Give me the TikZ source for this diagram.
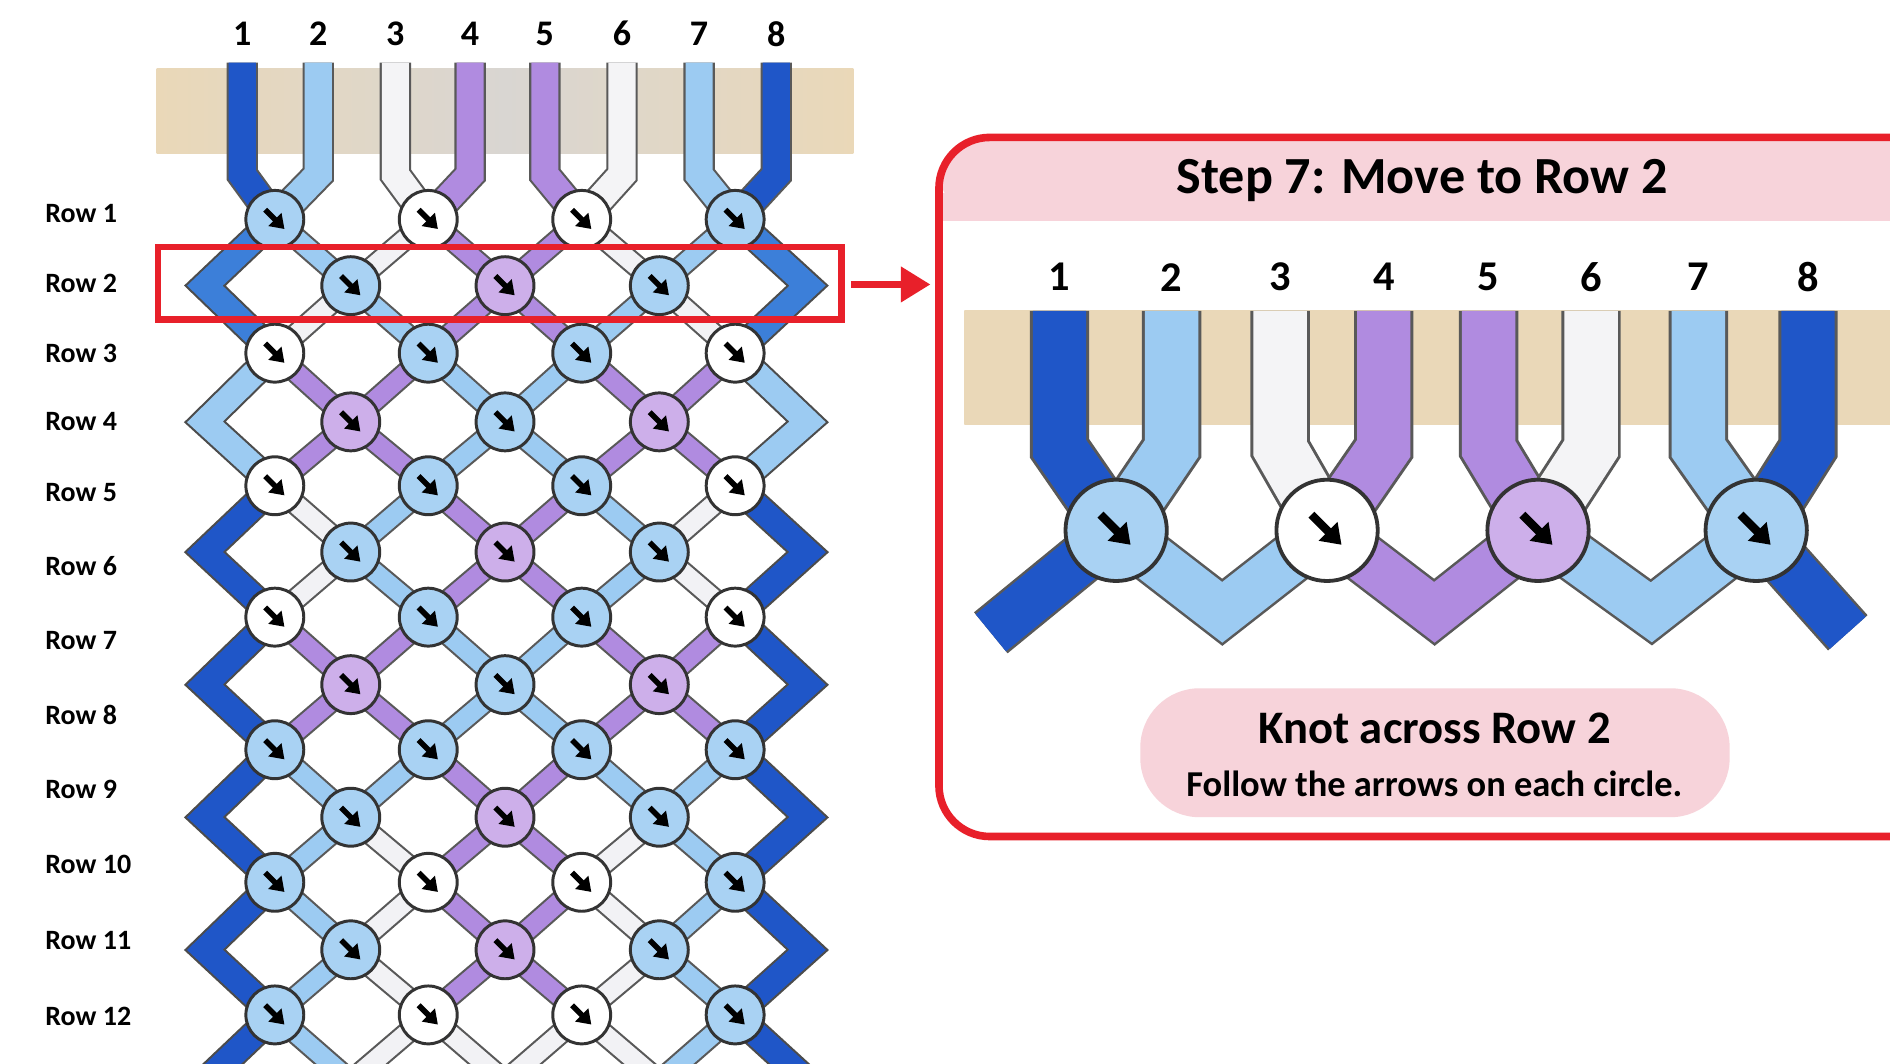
\documentclass[tikz,border=0pt]{standalone}
\usepackage{fontspec}
\setmainfont{Carlito}
\usetikzlibrary{arrows.meta}
\definecolor{dblue}{HTML}{1F56C8}
\definecolor{mblue}{HTML}{3C7FD9}
\definecolor{lblue}{HTML}{9CCBF2}
\definecolor{wstr}{HTML}{F4F4F6}
\definecolor{purp}{HTML}{B08BE0}
\definecolor{strand1}{HTML}{9CCBF2}
\definecolor{strand2}{HTML}{F2F2F5}
\definecolor{strand3}{HTML}{B08BE0}
\definecolor{knot1}{HTML}{A9D2F3}
\definecolor{knot2}{HTML}{FFFFFF}
\definecolor{knot3}{HTML}{CDAFEA}
\definecolor{tape}{HTML}{EAD8B8}
\definecolor{tapeg}{HTML}{D9D6D2}
\definecolor{pinkh}{HTML}{F7D3DA}
\definecolor{redl}{HTML}{E8202A}
\tikzset{
  str/.style={line width=4.4pt, draw=#1, line cap=butt},
  strout/.style={line width=5.4pt, draw=black!65, line cap=butt},
  edge/.style={line width=5.8pt, draw=#1, line join=miter},
  edgeout/.style={line width=6.8pt, draw=black!70, line join=miter},
  knot/.style={circle, minimum size=0.48cm, inner sep=0pt, fill=#1, draw=black!80, line width=0.7pt},
  bigknot/.style={circle, minimum size=0.84cm, inner sep=0pt, fill=#1, draw=black!80, line width=0.9pt},
  arr/.style={line width=1.3pt, -{Triangle[length=3.2pt,width=4.2pt]}},
  bigarr/.style={line width=2pt, -{Triangle[length=4.5pt,width=6pt]}},
  rowlab/.style={font=\fontsize{6.6}{8}\selectfont\bfseries, anchor=west, inner sep=0pt},
  numl/.style={font=\fontsize{8.5}{10}\selectfont\bfseries},
  numr/.style={font=\fontsize{10}{12}\selectfont\bfseries},
  zz/.style={line width=11.3pt, draw=#1, line join=miter},
  zzout/.style={line width=12.5pt, draw=black!65, line join=miter},
}
\newcommand\segdraw[2]{%
  \pgfmathtruncatemacro\mm{max(\csname kc#1\endcsname,\csname kc#2\endcsname)}%
  \draw[strout] (k#1)--(k#2);\draw[str=strand\mm] (k#1)--(k#2);}
\begin{document}
\begin{tikzpicture}[x=0.01cm,y=-0.01cm]
\useasboundingbox (0,0) rectangle (1568,882);
\fill[white] (0,0) rectangle (1568,882);
% ---------- left pattern ----------
\def\ys{{182,237,293,350,403,458,512,568,622,678,732,788,842,897}}
\foreach \r/\cols in {1/{1,2,2,1},2/{1,3,1},3/{2,1,1,2},4/{3,1,3},5/{2,1,1,2},6/{1,3,1},7/{2,1,1,2},8/{3,1,3},9/{1,1,1,1},10/{1,3,1},11/{1,2,2,1},12/{1,3,1},13/{1,2,2,1},14/{1,1,1}}{
  \pgfmathsetmacro\yy{\ys[\r-1]}
  \pgfmathtruncatemacro\odd{mod(\r,2)}
  \foreach \c [count=\i] in \cols {
    \pgfmathsetmacro\xx{\odd==1 ? 228+127.3*(\i-1) : 291+128*(\i-1)}
    \coordinate (k\r-\i) at (\xx,\yy);
    \expandafter\xdef\csname kc\r-\i\endcsname{\c}
  }
  \ifnum\odd=0
    \coordinate (eL\r) at (170,\yy);
    \coordinate (eR\r) at (670,\yy);
  \fi
}
% tape
\shade[left color=tape, right color=tape, middle color=tapeg] (130,57) rectangle (708,127);
% top strands
\foreach \x/\col/\k in {201/dblue/1,264/lblue/1,328/wstr/2,390/purp/2,452/purp/3,516/wstr/3,580/lblue/4,644/dblue/4}{
  \draw[line width=7.4pt, black!65] (\x,52)--(\x,145)--(k1-\k);
  \draw[line width=6.4pt, \col] (\x,52)--(\x,145)--(k1-\k);
}
\begin{scope}
\clip (0,0) rectangle (1568,882);
\foreach \r in {1,...,13}{
  \pgfmathtruncatemacro\n{\r+1}
  \pgfmathtruncatemacro\odd{mod(\r,2)}
  \ifnum\odd=1
    \foreach \i in {1,...,4}{
      \pgfmathtruncatemacro\j{\i-1}
      \ifnum\j>0 \segdraw{\r-\i}{\n-\j}\fi
      \ifnum\i<4 \segdraw{\r-\i}{\n-\i}\fi
    }
  \else
    \foreach \i in {1,...,3}{
      \pgfmathtruncatemacro\j{\i+1}
      \segdraw{\r-\i}{\n-\i}
      \segdraw{\r-\i}{\n-\j}
    }
  \fi
}
\foreach \r/\ec in {2/mblue,4/lblue,6/dblue,8/dblue,10/dblue,12/dblue}{
  \pgfmathtruncatemacro\p{\r-1}\pgfmathtruncatemacro\q{\r+1}
  \draw[edgeout] (k\p-1)--(eL\r)--(k\q-1); \draw[edge=\ec] (k\p-1)--(eL\r)--(k\q-1);
  \draw[edgeout] (k\p-4)--(eR\r)--(k\q-4); \draw[edge=\ec] (k\p-4)--(eR\r)--(k\q-4);
}
\draw[edgeout] (k13-1)--(eL14); \draw[edge=dblue] (k13-1)--(eL14);
\draw[edgeout] (k13-4)--(eR14); \draw[edge=dblue] (k13-4)--(eR14);
\foreach \r/\m in {1/4,2/3,3/4,4/3,5/4,6/3,7/4,8/3,9/4,10/3,11/4,12/3,13/4}{
  \foreach \i in {1,...,\m}{
    \node[knot=knot\csname kc\r-\i\endcsname] (n\r-\i) at (k\r-\i) {};
    \draw[arr] ([shift={(-8,-8)}]n\r-\i.center) -- ([shift={(8,8)}]n\r-\i.center);
  }
}
\end{scope}
% column numbers
\foreach \x [count=\i] in {201,264,328,390,452,516,580,644}{
  \node[numl] (cl\i) at (\x,28) {\i};
}
% row labels
\foreach \y [count=\i] in {177,235,293,350,409,470,531,593,655,717,780,843}{
  \node[rowlab] (rl\i) at (37,\y) {Row \i};
}
% highlight
\draw[redl, line width=1.5pt] (131,205) rectangle (698,265);
\coordinate (ha) at (706,236);
\coordinate (hb) at (772,236);
\draw[redl, line width=1.8pt, -{Triangle[length=7pt,width=8pt]}] (ha)--(hb);
% ---------- right panel ----------
\fill[pinkh, rounded corners=12] (779,183) -- (779,114) -- (1610,114) -- (1610,183) -- cycle;
\fill[pinkh] (779,160) rectangle (1610,183);
\draw[redl, line width=1.8pt, rounded corners=12] (779,114) rectangle (1610,694);
\node[font=\fontsize{12.3}{14}\selectfont\bfseries] (title) at (1180,150) {Step 7: Move to Row 2};
\shade[left color=tape, right color=tape] (800,258) rectangle (1568,352);
\foreach \x [count=\i] in {926,1101,1276,1457}{
  \coordinate (K\i) at (\x,440);
}
\coordinate (z0) at (822,525);
\coordinate (z1) at (1014,508);
\coordinate (z2) at (1190,508);
\coordinate (z3) at (1370,508);
\coordinate (z4) at (1533,525);
\foreach \x/\col/\k [count=\i] in {879/dblue/1,972/lblue/1,1062/wstr/2,1148/purp/2,1235/purp/3,1320/wstr/3,1409/lblue/4,1500/dblue/4}{
  \node[numr] (cr\i) at (\x,230) {\i};
  \draw[line width=14pt, black!65] (\x,258)--(\x,372)--(K\k);
  \draw[line width=12.6pt, \col] (\x,258)--(\x,372)--(K\k);
}
\draw[zzout] (z0)--(K1); \draw[zz=dblue] (z0)--(K1);
\draw[zzout] (K1)--(z1)--(K2); \draw[zz=lblue] (K1)--(z1)--(K2);
\draw[zzout] (K2)--(z2)--(K3); \draw[zz=purp] (K2)--(z2)--(K3);
\draw[zzout] (K3)--(z3)--(K4); \draw[zz=lblue] (K3)--(z3)--(K4);
\draw[zzout] (K4)--(z4); \draw[zz=dblue] (K4)--(z4);
\foreach \i/\c in {1/1,2/2,3/3,4/1}{
  \node[bigknot=knot\c] (N\i) at (K\i) {};
  \draw[bigarr] ([shift={(-13,-13)}]N\i.center) -- ([shift={(12,12)}]N\i.center);
}
\fill[pinkh, rounded corners=14] (946,571) rectangle (1435,678);
\node[font=\fontsize{11}{13}\selectfont\bfseries] (kt) at (1190,604) {Knot across Row 2};
\node[font=\fontsize{8.6}{10}\selectfont\bfseries] (ft) at (1190,650) {Follow the arrows on each circle.};
\end{tikzpicture}
\end{document}
